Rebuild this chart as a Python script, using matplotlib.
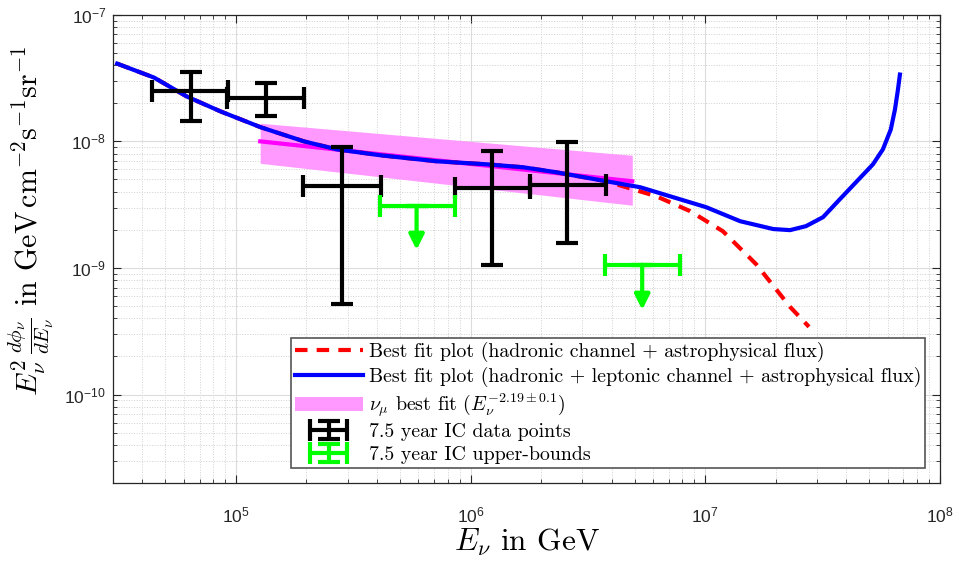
import numpy as np
import matplotlib
matplotlib.use('Agg')
import matplotlib.pyplot as plt
from matplotlib.ticker import FuncFormatter, LogLocator, FixedLocator
from matplotlib.legend_handler import HandlerErrorbar

plt.rcParams['font.family'] = 'cmr10'
plt.rcParams['mathtext.fontset'] = 'cm'
plt.rcParams['axes.unicode_minus'] = False

# best fit, hadronic + leptonic + astrophysical (blue)
e_blue = [3.12e4, 4.48e4, 6.18e4, 8.63e4, 1.28e5, 1.95e5, 2.69e5, 4.14e5, 7.17e5,
          1.17e6, 1.68e6, 2.32e6, 3.79e6, 5.29e6, 7.31e6, 1.01e7, 1.41e7, 1.95e7,
          2.30e7, 2.69e7, 3.18e7, 3.75e7, 4.39e7, 5.19e7, 5.72e7, 6.18e7, 6.44e7,
          6.63e7, 6.76e7]
f_blue = [4.11e-8, 3.19e-8, 2.26e-8, 1.72e-8, 1.29e-8, 1.0e-8, 8.65e-9, 7.76e-9, 6.96e-9,
          6.59e-9, 6.24e-9, 5.70e-9, 4.84e-9, 4.34e-9, 3.62e-9, 3.02e-9, 2.34e-9, 2.03e-9,
          1.99e-9, 2.14e-9, 2.52e-9, 3.49e-9, 4.75e-9, 6.59e-9, 8.65e-9, 1.24e-8, 1.79e-8,
          2.56e-8, 3.37e-8]

# best fit, hadronic + astrophysical (red dashed)
e_red = [3.12e4, 4.48e4, 6.18e4, 8.63e4, 1.28e5, 1.95e5, 2.69e5, 4.14e5, 7.17e5,
         1.17e6, 1.68e6, 2.32e6, 3.79e6, 6.18e6, 8.63e6, 1.19e7, 1.65e7, 2.30e7, 2.77e7]
f_red = [4.11e-8, 3.19e-8, 2.26e-8, 1.72e-8, 1.29e-8, 1.0e-8, 8.65e-9, 7.76e-9, 6.96e-9,
         6.59e-9, 6.24e-9, 5.70e-9, 4.84e-9, 3.69e-9, 2.81e-9, 1.95e-9, 1.07e-9, 4.93e-10,
         3.43e-10]

# nu_mu best fit band
e_band = [1.27e5, 4.89e6]
f_band_mid = [1.0e-8, 4.84e-9]
f_band_hi = [1.39e-8, 7.76e-9]
f_band_lo = [6.71e-9, 3.13e-9]

# IceCube 7.5 year data points
e_pts = [6.45e4, 1.34e5, 2.82e5, 1.24e6, 2.59e6]
e_pts_lo = [4.40e4, 9.16e4, 1.93e5, 8.55e5, 1.80e6]
e_pts_hi = [9.25e4, 1.95e5, 4.14e5, 1.80e6, 3.79e6]
f_pts = [2.48e-8, 2.22e-8, 4.43e-9, 4.27e-9, 4.51e-9]
f_pts_lo = [1.46e-8, 1.60e-8, 5.2e-10, 1.06e-9, 1.57e-9]
f_pts_hi = [3.56e-8, 2.87e-8, 8.97e-9, 8.34e-9, 9.82e-9]

# IceCube 7.5 year upper bounds
e_ub = [5.89e5, 5.39e6]
e_ub_lo = [4.10e5, 3.75e6]
e_ub_hi = [8.63e5, 7.83e6]
f_ub = [3.08e-9, 1.06e-9]
f_ub_tip = [1.39e-9, 4.67e-10]

x_ticks = [1e5, 1e6, 1e7, 1e8]
y_ticks = [1e-10, 1e-9, 1e-8, 1e-7]

fig = plt.figure(figsize=(9.59, 5.67), dpi=100)
ax = fig.add_axes([0.118, 0.148, 0.862, 0.826])

ax.fill_between(e_band, f_band_lo, f_band_hi, color='#ff99ff', lw=0,
                label=r'$\nu_\mu$ best fit ($E_\nu^{-2.19\pm0.1}$)', zorder=2)
ax.plot(e_band, f_band_mid, color='#ff00ff', lw=3, zorder=3)
ax.plot(e_red, f_red, color='#ff0000', lw=3, ls=(0, (3, 2.2)), zorder=4,
        label='Best fit plot (hadronic channel + astrophysical flux)')
ax.plot(e_blue, f_blue, color='#0000ff', lw=3, zorder=5,
        label='Best fit plot (hadronic + leptonic channel + astrophysical flux)')

xerr = [np.array(e_pts) - np.array(e_pts_lo), np.array(e_pts_hi) - np.array(e_pts)]
yerr = [np.array(f_pts) - np.array(f_pts_lo), np.array(f_pts_hi) - np.array(f_pts)]
eb_pts = ax.errorbar(e_pts, f_pts, xerr=xerr, yerr=yerr, fmt='none', ecolor='black',
                     elinewidth=3, capsize=8, capthick=3, zorder=6,
                     label='7.5 year IC data points')

xerr_ub = [np.array(e_ub) - np.array(e_ub_lo), np.array(e_ub_hi) - np.array(e_ub)]
eb_ub = ax.errorbar(e_ub, f_ub, xerr=xerr_ub, yerr=[[0, 0], [0, 0]], fmt='none',
                    ecolor='#00ff00', elinewidth=3, capsize=8, capthick=3, zorder=6,
                    label='7.5 year IC upper-bounds')
for x, y0, y1 in zip(e_ub, f_ub, f_ub_tip):
    ax.annotate('', xy=(x, y1), xytext=(x, y0),
                arrowprops=dict(arrowstyle='-|>,head_length=0.9,head_width=0.45',
                                color='#00ff00', lw=3, shrinkA=0, shrinkB=0),
                zorder=6)

ax.set_xscale('log')
ax.set_yscale('log')
ax.set_xlim(3e4, 1e8)
ax.set_ylim(2e-11, 1e-7)

fmt = FuncFormatter(lambda v, p: r'$\mathregular{10^{%d}}$' % round(np.log10(v)))
ax.xaxis.set_major_locator(FixedLocator(x_ticks))
ax.yaxis.set_major_locator(FixedLocator(y_ticks))
ax.xaxis.set_major_formatter(fmt)
ax.yaxis.set_major_formatter(fmt)
ax.xaxis.set_minor_locator(LogLocator(base=10, subs=np.arange(2, 10), numticks=20))
ax.yaxis.set_minor_locator(LogLocator(base=10, subs=np.arange(2, 10), numticks=20))
for lab in ax.get_xticklabels() + ax.get_yticklabels():
    lab.set_fontfamily('Liberation Sans')
    lab.set_fontsize(12.5)
ax.tick_params(which='both', direction='in', top=True, right=True, colors='#262626')
ax.tick_params(which='major', length=6)
ax.tick_params(which='minor', length=3)
ax.tick_params(axis='x', pad=16)
ax.tick_params(axis='y', pad=5)
for s in ax.spines.values():
    s.set_color('#262626')
    s.set_linewidth(0.9)

ax.grid(True, which='major', color='#dcdcdc', lw=0.8)
ax.grid(True, which='minor', color='#d0d0d0', lw=0.7, ls=':')
ax.set_axisbelow(True)

ax.set_xlabel(r'$E_\nu$ in GeV', fontsize=22.5, labelpad=1)
ax.set_ylabel(r'$E_\nu^2\,\frac{d\phi_\nu}{dE_\nu}$ in GeV$\,$cm$^{-2}$s$^{-1}$sr$^{-1}$',
              fontsize=21.5)
ax.yaxis.set_label_coords(-0.069, 0.56)

handles, labels = ax.get_legend_handles_labels()
order = [labels.index(l) for l in [
    'Best fit plot (hadronic channel + astrophysical flux)',
    'Best fit plot (hadronic + leptonic channel + astrophysical flux)',
    r'$\nu_\mu$ best fit ($E_\nu^{-2.19\pm0.1}$)',
    '7.5 year IC data points',
    '7.5 year IC upper-bounds']]
leg = ax.legend([handles[i] for i in order], [labels[i] for i in order],
                loc='lower right', bbox_to_anchor=(0.982, 0.033), fontsize=14.3,
                fancybox=False, framealpha=1, edgecolor='#555555',
                handlelength=3.4, handletextpad=0.3, labelspacing=0.22,
                borderpad=0.2, borderaxespad=0,
                handler_map={eb_pts: HandlerErrorbar(xerr_size=0.93, yerr_size=0.45),
                             eb_ub: HandlerErrorbar(xerr_size=0.93, yerr_size=0.45)})
leg.get_frame().set_linewidth(1.2)

fig.savefig('out.png', dpi=100)
